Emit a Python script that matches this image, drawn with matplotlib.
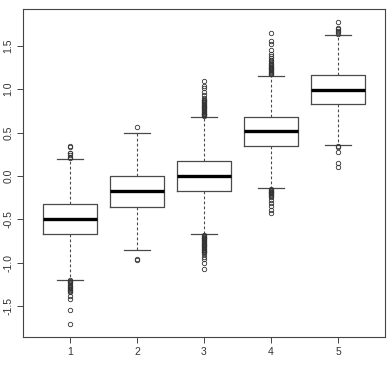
# plot.py
# -------
# R-style boxplot of five groups, drawn from precomputed box statistics.

import matplotlib
matplotlib.use("Agg")
import matplotlib.pyplot as plt

plt.rcParams["font.family"] = ["Liberation Sans", "DejaVu Sans"]

groups = ["1", "2", "3", "4", "5"]
medians = [-0.495, -0.176, -0.004, 0.518, 0.994]
q1 = [-0.664, -0.360, -0.169, 0.346, 0.833]
q3 = [-0.323, -0.004, 0.169, 0.676, 1.160]
whisker_low = [-1.198, -0.856, -0.672, -0.142, 0.353]
whisker_high = [0.200, 0.500, 0.676, 1.155, 1.620]
outliers = [
    [0.21, 0.22, 0.24, 0.26, 0.27, 0.33, 0.35,
     -1.20, -1.21, -1.22, -1.23, -1.25, -1.27, -1.28, -1.29, -1.30, -1.31,
     -1.33, -1.34, -1.38, -1.42, -1.54, -1.71],
    [0.56, -0.96, -0.97],
    [0.69, 0.70, 0.71, 0.72, 0.73, 0.74, 0.75, 0.76, 0.77, 0.78, 0.79, 0.80,
     0.81, 0.82, 0.83, 0.84, 0.85, 0.86, 0.87, 0.88, 0.90, 0.93, 0.97, 1.01,
     1.04, 1.10,
     -0.68, -0.69, -0.70, -0.71, -0.72, -0.73, -0.74, -0.75, -0.76, -0.77,
     -0.78, -0.79, -0.80, -0.81, -0.82, -0.83, -0.84, -0.85, -0.86, -0.87,
     -0.88, -0.90, -0.93, -0.96, -1.00, -1.07],
    [1.17, 1.18, 1.19, 1.20, 1.21, 1.22, 1.23, 1.24, 1.25, 1.26, 1.27, 1.28,
     1.29, 1.30, 1.32, 1.34, 1.36, 1.38, 1.40, 1.45, 1.52, 1.55, 1.65,
     -0.15, -0.16, -0.17, -0.18, -0.19, -0.20, -0.21, -0.22, -0.23, -0.24,
     -0.28, -0.31, -0.35, -0.39, -0.43],
    [1.64, 1.66, 1.67, 1.69, 1.70, 1.78, 0.34, 0.33, 0.28, 0.15, 0.10],
]
y_ticks = [-1.5, -1.0, -0.5, 0.0, 0.5, 1.0, 1.5]

stats = []
for i, name in enumerate(groups):
    stats.append({
        "label": name,
        "med": medians[i],
        "q1": q1[i],
        "q3": q3[i],
        "whislo": whisker_low[i],
        "whishi": whisker_high[i],
        "fliers": outliers[i],
    })

fig = plt.figure(figsize=(3.89, 3.66), dpi=100)
ax = fig.add_axes([0.0591, 0.0792, 0.9306, 0.8962])

line_col = "#4a4a4a"
ax.bxp(
    stats,
    positions=range(1, len(groups) + 1),
    widths=0.8,
    showfliers=True,
    boxprops=dict(color=line_col, linewidth=0.9),
    medianprops=dict(color="black", linewidth=2.4, solid_capstyle="butt"),
    whiskerprops=dict(color=line_col, linewidth=0.8, linestyle=(0, (2.5, 2))),
    capprops=dict(color=line_col, linewidth=0.9),
    capwidths=0.4,
    flierprops=dict(marker="o", markersize=3.2, markerfacecolor="none",
                    markeredgecolor="#333333", markeredgewidth=0.6),
)

ax.set_xlim(0.3, 5.7)
ax.set_ylim(-1.855, 1.924)
ax.set_yticks(y_ticks)
ax.set_yticklabels([f"{v:.1f}" for v in y_ticks], rotation=90, va="center")
ax.tick_params(axis="both", labelsize=7.5, length=4, width=0.7, color="#444444",
               labelcolor="#333333", direction="out", pad=3)
for s in ax.spines.values():
    s.set_color("#444444")
    s.set_linewidth(0.8)

fig.savefig("out.png", dpi=100)
